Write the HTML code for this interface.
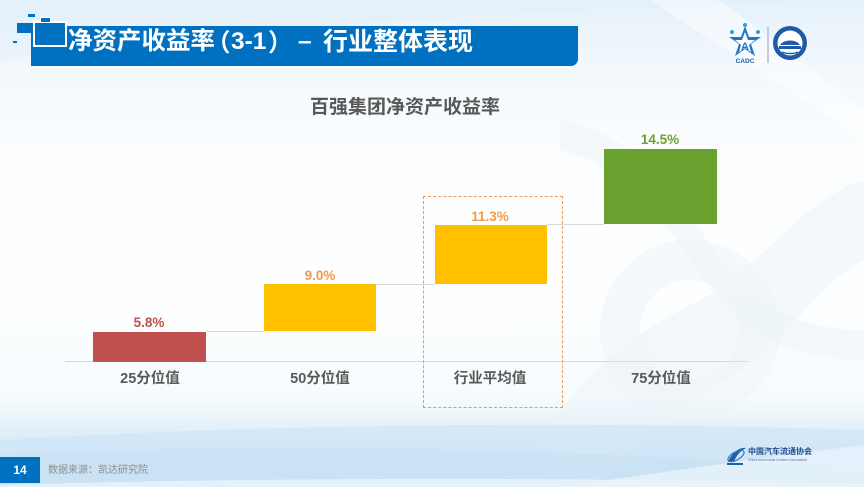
<!DOCTYPE html>
<html><head><meta charset="utf-8">
<style>
*{margin:0;padding:0;box-sizing:border-box}
html,body{width:864px;height:487px;overflow:hidden}
body{position:relative;font-family:"Liberation Sans","Noto Sans CJK SC",sans-serif;
background:linear-gradient(180deg,#e6f1fa 0%,#f2f8fc 14%,#fbfdfe 30%,#fdfeff 60%,#f7fbfd 82%,#e3f0f9 88%,#d2e8f7 93%,#cfe6f6 100%);}
.abs{position:absolute;white-space:nowrap}
.bar{position:absolute}
.lbl{position:absolute;font-weight:bold;font-size:13.5px;line-height:14px;text-align:center;width:80px}
.cat{position:absolute;font-weight:bold;font-size:14.5px;line-height:16px;color:#595959;text-align:center;width:120px}
.hl{position:absolute;height:1px;background:#d9d9d9}
.tt{position:absolute;color:#fff;font-weight:bold;font-size:24.5px;line-height:24px;top:30px;white-space:nowrap}
</style></head><body>
<svg class="abs" style="left:0;top:0" width="864" height="487" viewBox="0 0 864 487">
  <path d="M520 487 C560 380 640 330 700 300 C760 270 800 200 864 180 L864 260 C820 280 790 340 740 370 C690 400 640 430 600 487 Z" fill="#e9f1f7" opacity="0.45"/>
  <path d="M560 120 C620 130 660 170 700 230 C740 290 780 330 864 330 L864 360 C770 360 730 320 690 260 C650 200 610 160 560 150 Z" fill="#ecf3f8" opacity="0.5"/>
  <circle cx="690" cy="330" r="70" fill="none" stroke="#eef4f8" stroke-width="40" opacity="0.5"/>
  <path d="M0 60 C200 30 500 10 864 0 L864 0 L0 0 Z" fill="#e2eff9" opacity="0.5"/>
  <path d="M650 0 L720 0 L864 110 L864 140 Z" fill="#ffffff" opacity="0.45"/>
  <path d="M0 440 C250 425 550 420 864 430 L864 487 L0 487 Z" fill="#cfe5f6" opacity="0.7"/>
  <path d="M0 455 C300 440 600 450 864 470 L864 487 L0 487 Z" fill="#c4dff4" opacity="0.5"/>
  <path d="M560 487 C680 470 780 455 864 445 L864 487 Z" fill="#e8f3fb" opacity="0.8"/>
  <path d="M0 485 C300 476 600 478 864 484 L864 487 L0 487 Z" fill="#eaf4fb" opacity="0.8"/>
</svg>

<div class="abs" style="left:31px;top:26px;width:547px;height:40px;background:#0070c0;border-radius:0 0 7px 0"></div>
<div class="abs" style="left:28px;top:14px;width:7px;height:3px;background:#0070c0"></div>
<div class="abs" style="left:17px;top:23px;width:16px;height:10px;background:#0070c0"></div>
<div class="abs" style="left:33px;top:21px;width:34px;height:26px;background:#0070c0;border:2px solid #fff"></div>
<div class="abs" style="left:40px;top:17px;width:11px;height:6px;background:#0070c0;border:1px solid #fff"></div>
<div class="abs" style="left:13px;top:41px;width:4px;height:1.5px;background:#0070c0"></div>
<div class="tt" style="left:68px">净资产收益率</div>
<div class="tt" style="left:206px;font-family:'Noto Sans CJK SC',sans-serif">（</div>
<div class="tt" style="left:231px">3-1</div>
<div class="tt" style="left:268px;font-family:'Noto Sans CJK SC',sans-serif">）</div>
<div class="tt" style="left:298px">–</div>
<div class="tt" style="left:323px;font-size:25px">行业整体表现</div>

<svg class="abs" style="left:720px;top:22px" width="100" height="46" viewBox="0 0 100 46">
  <polygon points="25,4 29,15 41,15 31,22 35,34 25,27 15,34 19,22 9,15 21,15" fill="#1f77c8"/>
  <polygon points="25,10 28,18 35,18 29,23 31,30 25,26 19,30 21,23 15,18 22,18" fill="#fff"/>
  <text x="25" y="28" font-size="11" font-weight="bold" fill="#1f77c8" text-anchor="middle" font-family="Liberation Sans">A</text>
  <circle cx="12" cy="10" r="2" fill="#2aa0e0"/><circle cx="38" cy="10" r="2" fill="#2aa0e0"/><circle cx="25" cy="3" r="2" fill="#2aa0e0"/>
  <text x="25" y="41" font-size="6.5" font-weight="bold" fill="#1f5fa8" text-anchor="middle" font-family="Liberation Sans">CADC</text>
  <line x1="48" y1="5" x2="48" y2="41" stroke="#8aa6c4" stroke-width="1"/>
  <circle cx="70" cy="21" r="17" fill="#1e5aa6"/>
  <circle cx="70" cy="21" r="12.5" fill="#fff"/>
  <path d="M60 23 C64 17 76 17 80 23 Z" fill="#1e5aa6"/>
  <rect x="59" y="24" width="22" height="3" fill="#1e5aa6"/>
  <path d="M62 30 C66 32 74 32 78 30" stroke="#1e5aa6" stroke-width="1.5" fill="none"/>
</svg>

<div class="abs" style="left:310px;top:98px;font-size:19px;line-height:20px;font-weight:bold;color:#595959">百强集团净资产收益率</div>

<div class="hl" style="left:65px;top:361px;width:682px"></div>
<div class="hl" style="left:206px;top:331px;width:58px"></div>
<div class="hl" style="left:376px;top:284px;width:59px"></div>
<div class="hl" style="left:547px;top:224px;width:57px"></div>

<div class="bar" style="left:93px;top:332px;width:113px;height:30px;background:#c0504d"></div>
<div class="bar" style="left:264px;top:284px;width:112px;height:47px;background:#ffc000"></div>
<div class="bar" style="left:435px;top:225px;width:112px;height:59px;background:#ffc000"></div>
<div class="bar" style="left:604px;top:149px;width:113px;height:75px;background:#6aa22f"></div>

<div class="lbl" style="left:109px;top:316px;color:#c0504d">5.8%</div>
<div class="lbl" style="left:280px;top:269px;color:#f39a4c">9.0%</div>
<div class="lbl" style="left:450px;top:210px;color:#f39a4c">11.3%</div>
<div class="lbl" style="left:620px;top:133px;color:#6aa22f">14.5%</div>

<div class="abs" style="left:423px;top:196px;width:140px;height:212px;border:1.5px dashed #ee9a5a"></div>

<div class="cat" style="left:90px;top:371px">25分位值</div>
<div class="cat" style="left:260px;top:371px">50分位值</div>
<div class="cat" style="left:430px;top:371px">行业平均值</div>
<div class="cat" style="left:601px;top:371px">75分位值</div>

<div class="abs" style="left:0;top:457px;width:40px;height:26px;background:#0070c0;color:#fff;font-size:12px;font-weight:bold;line-height:26px;text-align:center">14</div>
<div class="abs" style="left:48px;top:465px;font-size:10px;line-height:12px;color:#8c8c8c">数据来源：凯达研究院</div>
<svg class="abs" style="left:724px;top:444px" width="100" height="24" viewBox="0 0 100 24">
  <path d="M4 18 C8 8 16 3 22 4 C16 7 12 12 10 18 Z" fill="#1f5fa8"/>
  <ellipse cx="12" cy="12" rx="9" ry="4" fill="none" stroke="#2a7fd0" stroke-width="1.2" transform="rotate(-30 12 12)"/>
  <rect x="3" y="19" width="16" height="2" fill="#1f5fa8"/>
</svg>
<div class="abs" style="left:748px;top:447px;font-size:8px;line-height:9px;color:#1f4f8f;font-weight:bold">中国汽车流通协会</div>
<div class="abs" style="left:748px;top:458px;font-size:3.5px;line-height:4px;color:#5a7aa0">China Automobile Dealers Association</div>
</body></html>
